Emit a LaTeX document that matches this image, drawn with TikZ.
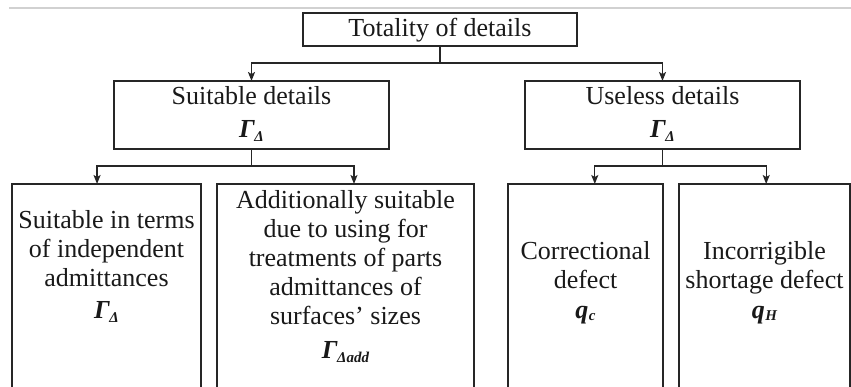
\documentclass[tikz,border=0pt]{standalone}
\usepackage{fontspec}
\setmainfont{Liberation Serif}
\usetikzlibrary{arrows.meta,calc}
\newcommand{\gsub}[1]{\textbf{\textit{Γ\kern-0.5pt\raisebox{-4pt}{\fontsize{15}{15}\selectfont #1}}}}
\newcommand{\qsub}[1]{\textbf{\textit{q\kern0.5pt\raisebox{-2pt}{\fontsize{15}{15}\selectfont #1}}}}
\begin{document}
\begin{tikzpicture}[x=1pt,y=-1pt,
  box/.style={draw=black!85, line width=1.3pt, inner sep=0pt, outer sep=0pt},
  txt/.style={inner sep=0pt, align=center, anchor=north, text=black!90, font=\fontsize{26}{29}\selectfont},
  ln/.style={draw=black!85, line width=1.3pt},
  arr/.style={ln, -{Stealth[length=9pt,width=7pt,inset=2pt]}}]
\useasboundingbox (0,0) rectangle (851,386);
\clip (0,0) rectangle (851,386);
\draw[black!18, line width=2pt] (9,8) -- (851,8);
% boxes
\node[box, minimum width=274pt, minimum height=33pt] (tot) at (440,29.5) {};
\node[box, minimum width=275pt, minimum height=68pt] (suit) at (251.5,115) {};
\node[box, minimum width=275pt, minimum height=68pt] (usel) at (662.5,115) {};
\node[box, minimum width=189pt, minimum height=236pt] (b1) at (106.5,302) {};
\node[box, minimum width=257pt, minimum height=236pt] (b2) at (345.5,302) {};
\node[box, minimum width=155pt, minimum height=236pt] (b3) at (585.5,302) {};
\node[box, minimum width=171pt, minimum height=236pt] (b4) at (764.5,302) {};
% texts
\node[txt] (tTot) at (440,16) {\rule{0pt}{20pt}Totality of details};
\node[txt] (tSuit) at (251.5,84) {\rule{0pt}{20pt}Suitable details\\[4pt]\gsub{Δ}};
\node[txt] (tUsel) at (662.5,84) {\rule{0pt}{20pt}Useless details\\[4pt]\gsub{Δ}};
\node[txt] (t1) at (106.5,208) {\rule{0pt}{20pt}Suitable in terms\\of independent\\admittances\\[3pt]\gsub{Δ}};
\node[txt] (t2) at (345.5,188) {\rule{0pt}{20pt}Additionally suitable\\due to using for\\treatments of parts\\admittances of\\surfaces’ sizes\\[5pt]\gsub{Δadd}};
\node[txt] (t3) at (585.5,239) {\rule{0pt}{20pt}Correctional\\defect\\[1pt]\qsub{c}};
\node[txt] (t4) at (764.5,239) {\rule{0pt}{20pt}Incorrigible\\shortage defect\\[1pt]\qsub{H}};
% connectors
\draw[ln] (tot.south) -- ++(0,17) coordinate (j1);
\draw[arr] (j1) -| (suit.north);
\draw[arr] (j1) -| (usel.north);
\draw[ln] (suit.south) -- ++(0,17) coordinate (j2);
\draw[arr] (j2) -| ($(b1.north west)!0.45!(b1.north east)$);
\draw[arr] (j2) -| ($(b2.north west)!0.533!(b2.north east)$);
\draw[ln] (usel.south) -- ++(0,17) coordinate (j3);
\draw[arr] (j3) -| ($(b3.north west)!0.56!(b3.north east)$);
\draw[arr] (j3) -| ($(b4.north west)!0.51!(b4.north east)$);
\end{tikzpicture}
\end{document}
